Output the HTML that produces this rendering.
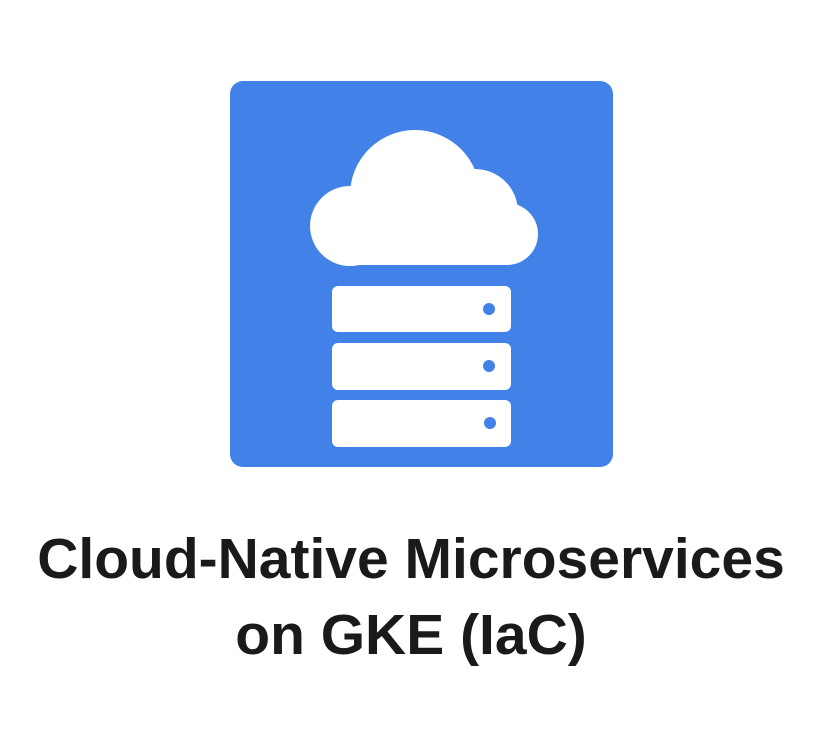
<!DOCTYPE html>
<html><head><style>
body{margin:0;width:822px;height:739px;background:#fff;position:relative;overflow:hidden;font-family:"Liberation Sans",sans-serif;}
.t{position:absolute;left:0;width:822px;text-align:center;font-weight:bold;font-size:57px;color:#1a1a1a;line-height:1;white-space:nowrap;}
</style></head><body>
<svg width="822" height="739" style="position:absolute;left:0;top:0">
<rect x="230" y="81" width="383" height="386" rx="13" fill="#4281E8"/>
<g fill="#fff">
<circle cx="415" cy="195" r="65"/>
<circle cx="350" cy="226" r="40"/>
<circle cx="475" cy="212" r="43"/>
<circle cx="507" cy="234" r="31"/>
<rect x="350" y="200" width="157" height="65"/>
<rect x="332" y="286" width="179" height="46" rx="6"/>
<rect x="332" y="343" width="179" height="47" rx="6"/>
<rect x="332" y="400" width="179" height="47" rx="6"/>
</g>
<g fill="#4281E8">
<circle cx="489" cy="309" r="6"/>
<circle cx="489" cy="366" r="6"/>
<circle cx="490" cy="423" r="6"/>
</g>
</svg>
<div class="t" style="top:531px">Cloud-Native Microservices</div>
<div class="t" style="top:607px">on GKE (IaC)</div>
</body></html>
